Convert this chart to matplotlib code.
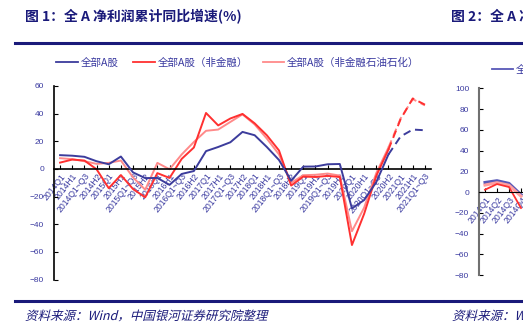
import matplotlib
matplotlib.use("Agg")
import matplotlib.pyplot as plt
from matplotlib.lines import Line2D
from matplotlib.textpath import TextPath
from matplotlib.patches import PathPatch
from matplotlib.font_manager import FontProperties
from matplotlib.transforms import Affine2D

periods = ["2014Q1", "2014H1", "2014Q1~Q3", "2014H2",
           "2015Q1", "2015H1", "2015Q1~Q3", "2015H2",
           "2016Q1", "2016H1", "2016Q1~Q3", "2016H2",
           "2017Q1", "2017H1", "2017Q1~Q3", "2017H2",
           "2018Q1", "2018H1", "2018Q1~Q3", "2018H2",
           "2019Q1", "2019H1", "2019Q1~Q3", "2019H2",
           "2020Q1", "2020H1", "2020Q1~Q3", "2020H2",
           "2021Q1", "2021H1", "2021Q1~Q3"]

all_a = [10.0, 9.6, 8.8, 5.6, 3.4, 9.0, -2.5, -6.6, -6.5, -11.5, -3.6, -1.5,
         12.9, 15.9, 19.3, 26.8, 24.4, 15.9, 6.5, -8.5, 1.7, 1.8, 3.4, 3.6,
         -28.5, -22.5, -9.5, 10.5, 23.5, 28.5, 28.0]
non_fin = [4.6, 6.8, 6.1, -0.2, -13.9, -4.4, -14.5, -20.5, -3.0, -6.5, 7.3, 15.5,
           40.5, 31.5, 36.5, 39.8, 33.0, 24.4, 13.4, -12.0, -5.5, -5.8, -5.0, -5.8,
           -55.0, -32.5, -5.0, 14.0, 36.0, 51.0, 46.5]
non_fin_oil = [7.8, 7.1, 5.6, 3.7, 4.4, 6.1, -6.1, -15.0, 4.4, -0.2, 10.5, 19.5,
               27.6, 28.5, 34.0, 39.5, 32.2, 22.0, 10.5, -10.0, -4.5, -4.2, -3.3, -4.8,
               -45.0, -28.0, -3.0, 15.5, 36.5, 50.5, 46.0]
forecast_from = 27  # 2020H2 onwards drawn dashed

# second chart (cut off at the right edge)
quarters2 = ["2014Q1", "2014Q2", "2014Q3", "2014Q4"]
all_a2 = [9.2, 10.9, 8.3, -2.6]
non_fin2 = [2.2, 7.7, 4.8, -15.4]
non_fin_oil2 = [6.7, 9.0, 6.5, -4.0]

names = ["全部A股", "全部A股（非金融）", "全部A股（非金融石油石化）"]
c_blue = "#3c3c9c"
c_red = "#ff3030"
c_pink = "#ff8a8a"
c_text = "#3a3aa0"
c_navy = "#1a1a7a"

cjk = ["Noto Sans CJK SC", "DejaVu Sans"]
num = ["Liberation Sans", "DejaVu Sans"]

W, H = 523, 326
fig = plt.figure(figsize=(W / 100, H / 100), dpi=100)


def fx(px):
    return px / W


def fy(py):
    return 1 - py / H


def style_axis(a, labels):
    # spine position first: moving it resets the ticks
    a.spines["bottom"].set_position(("data", 0))
    a.spines["top"].set_visible(False)
    a.spines["right"].set_visible(False)
    a.patch.set_alpha(0)
    a.tick_params(axis="y", direction="in", length=3, width=0.8, pad=7,
                  labelsize=6, labelcolor=c_text)
    a.tick_params(axis="x", direction="in", length=3, width=0.8, pad=2)
    a.set_xticks(range(len(labels)))
    a.set_xticklabels(labels, rotation=52, ha="right", va="top",
                      rotation_mode="anchor", fontsize=6.2, color=c_text, family=num)
    for t in a.get_yticklabels():
        t.set_family(num)


# ---- chart 1
ax = fig.add_axes([fx(54), fy(279.6), fx(431) - fx(54), fy(86) - fy(279.6)])
x = list(range(len(periods)))
series = [(non_fin_oil, c_pink, 2), (non_fin, c_red, 2), (all_a, c_blue, 3)]
for vals, col, z in series:
    ax.plot(x[:forecast_from + 1], vals[:forecast_from + 1], color=col, lw=1.4, zorder=z)
    ax.plot(x[forecast_from:], vals[forecast_from:], color=col, lw=1.4,
            ls=(0, (4, 2.5)), zorder=z)

ax.set_xlim(-0.5, len(periods) - 0.5)
ax.set_ylim(-80, 60)
ax.set_yticks([-80, -60, -40, -20, 0, 20, 40, 60])
style_axis(ax, periods)
ax.spines["left"].set_linewidth(1.2)
ax.spines["bottom"].set_linewidth(1.2)

handles = [Line2D([], [], color=c, lw=1.3) for c in (c_blue, c_red, c_pink)]
fig.legend(handles, names, loc="center", bbox_to_anchor=(fx(238), fy(63)),
           ncol=3, frameon=False, prop={"family": cjk, "size": 7.6},
           labelcolor=c_text, handlelength=2.0, handletextpad=0.3,
           columnspacing=1.4)

# ---- chart 2 (partly outside the canvas)
ax2 = fig.add_axes([fx(479), fy(275), 372 / W, fy(88.3) - fy(275)])
x2 = list(range(len(quarters2)))
ax2.plot(x2, all_a2, color="#5858b8", lw=2.2)
ax2.plot(x2, non_fin_oil2, color="#ffa0a0", lw=2.2)
ax2.plot(x2, non_fin2, color=c_red, lw=1.3)
ax2.set_xlim(-0.5, 30.5)
ax2.set_ylim(-80, 100)
ax2.set_yticks(range(-80, 101, 20))
style_axis(ax2, quarters2)
ax2.spines["left"].set_color("#707070")
ax2.spines["left"].set_linewidth(1.5)
fig.legend([Line2D([], [], color="#5858b8", lw=1.3)], ["全部A股"], loc="center left",
           bbox_to_anchor=(fx(482), fy(70)), frameon=False,
           prop={"family": cjk, "size": 7.6}, labelcolor=c_text,
           handlelength=2.0, handletextpad=0.3)

# ---- titles and rules
fig.text(fx(25), fy(17), "图 1：全 A 净利润累计同比增速(%)", fontsize=10,
         fontweight="bold", color=c_navy, family=cjk, va="center")
fig.text(fx(451), fy(17), "图 2：全 A 净利润单季同比增速(%)", fontsize=10,
         fontweight="bold", color=c_navy, family=cjk, va="center")
for y in (43, 301):
    fig.add_artist(Line2D([fx(15), fx(442)], [fy(y), fy(y)], color=c_navy, lw=2.2))
    fig.add_artist(Line2D([fx(445), fx(523)], [fy(y), fy(y)], color=c_navy, lw=2.2))


def italic_text(px, py, s, size):
    fp = FontProperties(family="Noto Sans CJK SC", size=size)
    tp = TextPath((0, 0), s, size=size, prop=fp)
    tr = (Affine2D().skew_deg(14, 0).scale(1 / 72.0)
          .translate(px / 100, (H - py) / 100) + fig.dpi_scale_trans)
    fig.add_artist(PathPatch(tp, transform=tr, fc=c_navy, lw=0))


italic_text(25, 320, "资料来源：Wind，中国银河证券研究院整理", 9)
italic_text(452, 320, "资料来源：Wind，中国银河证券研究院整理", 9)

fig.savefig("out.png", dpi=100)
